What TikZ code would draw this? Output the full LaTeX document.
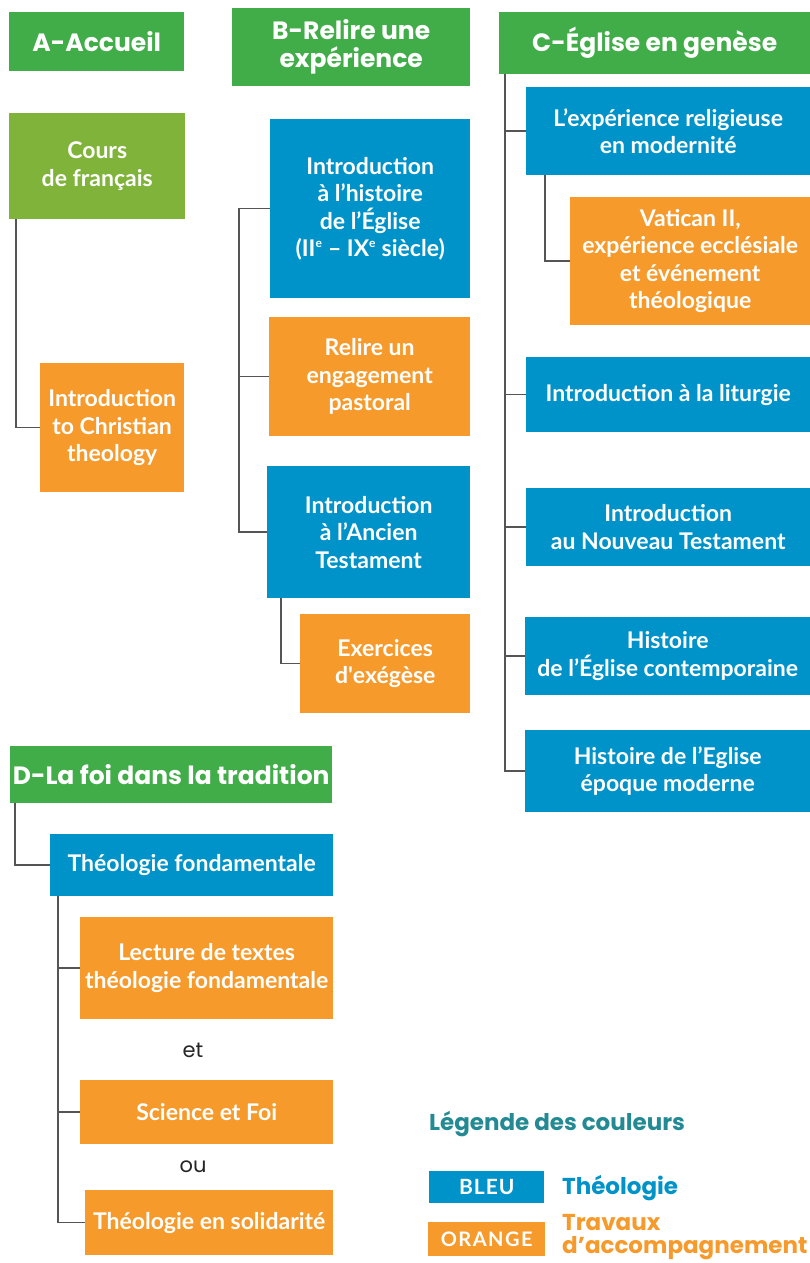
\documentclass[tikz,border=0pt]{standalone}
\usepackage{fontspec}
\setmainfont{Lato}
\newfontfamily\geo{Poppins}
\definecolor{hgreen}{HTML}{41AD49}
\definecolor{lgreen}{HTML}{80B33A}
\definecolor{blu}{HTML}{0093C9}
\definecolor{ora}{HTML}{F69A2C}
\definecolor{teal}{HTML}{238A94}
\definecolor{linec}{HTML}{555555}
\tikzset{
  box/.style={anchor=north west, inner sep=0pt, align=center, text=white,
    font=\bfseries\fontsize{23}{27.5}\selectfont},
  head/.style={box, fill=hgreen, font=\geo\bfseries\fontsize{25}{28}\selectfont},
  bl/.style={box, fill=blu},
  or/.style={box, fill=ora},
  conn/.style={draw=linec, line width=1.5pt},
  word/.style={font=\geo\fontsize{21}{22}\selectfont, text=black!85},
  sz/.style 2 args={minimum width=#1pt, minimum height=#2pt},
  keyt/.style={anchor=west, inner sep=0pt, align=left, font=\geo\bfseries\fontsize{23}{23}\selectfont},
}
\begin{document}
\begin{tikzpicture}[x=1pt,y=-1pt]
\useasboundingbox[fill=white] (0,0) rectangle (810,1263);
% headers
\node[head, sz={175}{59}] (ah) at (9,12) {A-Accueil};
\node[head, sz={238}{78}] (bh) at (232,8) {\rule{0pt}{3pt}B-Relire une\\expérience};
\node[head, sz={311}{62}] (ch) at (499,12) {C-Église en genèse};
\node[head, sz={322}{57}] (dh) at (10,746) {D-La foi dans la tradition};
% A
\node[box, fill=lgreen, sz={176}{106}] (cf) at (9,113) {Cours\\de français};
\node[or, sz={144}{129}] (ict) at (40,363) {Introduction\\to Christian\\theology};
\draw[conn] ([xshift=7pt]cf.south west) |- (ict.west);
% B
\node[bl, sz={200}{179}] (ih) at (270,119) {Introduction\\à l’histoire\\de l’Église\\(II\textsuperscript{\fontsize{12}{12}\selectfont e} – IX\textsuperscript{\fontsize{12}{12}\selectfont e} siècle)};
\node[or, sz={201}{119}] (rp) at (269,317) {Relire un\\engagement\\pastoral};
\node[bl, sz={203}{132}] (at) at (267,466) {Introduction\\à l’Ancien\\Testament};
\node[or, sz={170}{99}] (ex) at (300,614) {Exercices\\d\textquotesingle exégèse};
\draw[conn] (ih.west) -- ++(-31,0) |- (at.west);
\draw[conn] (rp.west) -- ++(-30,0);
\draw[conn] ([xshift=14pt]at.south west) |- (ex.west);
% C
\node[bl, sz={284}{88}] (er) at (526,87) {L’expérience religieuse\\en modernité};
\node[or, sz={240}{128}] (va) at (570,197) {Vatican II,\\expérience ecclésiale\\et événement\\théologique};
\node[bl, sz={284}{75}] (li) at (526,357) {Introduction à la liturgie};
\node[bl, sz={284}{78}] (nt) at (526,488) {Introduction\\au Nouveau Testament};
\node[bl, sz={285}{78}] (hc) at (525,617) {Histoire\\de l’Église contemporaine};
\node[bl, sz={285}{82}] (hm) at (525,730) {Histoire de l’Eglise\\époque moderne};
\draw[conn] ([xshift=6pt]ch.south west) |- (hm.west);
\draw[conn] (er.west) -- ++(-21,0);
\draw[conn] (li.west) -- ++(-21,0);
\draw[conn] (nt.west) -- ++(-21,0);
\draw[conn] (hc.west) -- ++(-20,0);
\draw[conn] ([xshift=19pt]er.south west) |- (va.west);
% D
\node[bl, sz={283}{62}] (tf) at (50,834) {Théologie fondamentale};
\node[or, sz={253}{102}] (lt) at (80,917) {Lecture de textes\\théologie fondamentale};
\node[or, sz={253}{64}] (sf) at (80,1080) {Science et Foi};
\node[or, sz={248}{65}] (ts) at (85,1190) {Théologie en solidarité};
\node[word] (et) at (193,1050) {et};
\node[word] (ou) at (193,1167) {ou};
\draw[conn] ([xshift=5pt]dh.south west) |- (tf.west);
\draw[conn] ([xshift=8pt]tf.south west) |- (ts.west);
\draw[conn] (lt.west) -- ++(-22,0);
\draw[conn] (sf.west) -- ++(-22,0);
% legend
\node[keyt, text=teal] (lg) at (429,1124) {Légende des couleurs};
\node[bl, sz={115}{32}, font=\bfseries\fontsize{21}{22}\selectfont] (kb) at (429,1171) {B\kern1pt L\kern1pt E\kern1pt U};
\node[or, sz={117}{34}, font=\bfseries\fontsize{20}{22}\selectfont] (ko) at (428,1222) {O\kern1.5pt R\kern1.5pt A\kern1.5pt N\kern1.5pt G\kern1.5pt E};
\node[keyt, text=blu] (kt) at (562,1188) {Théologie};
\node[keyt, text=ora] (ka) at (562,1237) {Travaux\\d’accompagnement};
\end{tikzpicture}
\end{document}
